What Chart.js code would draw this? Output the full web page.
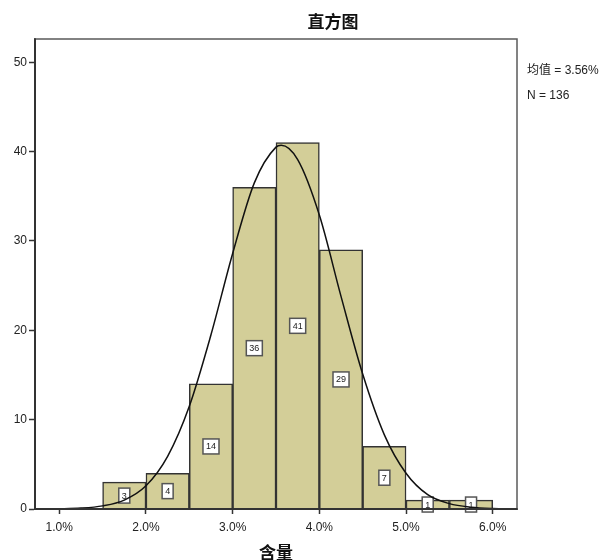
<!DOCTYPE html>
<html>
<head>
<meta charset="utf-8">
<script src="https://cdn.jsdelivr.net/npm/chart.js@4/dist/chart.umd.min.js"></script>
<style>
html,body{margin:0;padding:0;background:#fff;}
#wrap{width:602px;height:560px;}
</style>
</head>
<body>
<div id="wrap"><canvas id="c" width="602" height="560"></canvas></div>
<script>
// ---- data ----
const binCenters = [1.75, 2.25, 2.75, 3.25, 3.75, 4.25, 4.75, 5.25, 5.75];
const counts     = [3, 4, 14, 36, 41, 29, 7, 1, 1];
const curveX = [0.75, 1.0, 1.25, 1.5, 1.75, 2.0, 2.25, 2.5, 2.75, 3.0, 3.25, 3.5, 3.56, 3.75, 4.0, 4.25, 4.5, 4.75, 5.0, 5.25, 5.5, 5.75, 6.0, 6.25];
const curveY = [0.0, 0.03, 0.1, 0.35, 1.0, 2.6, 5.9, 11.5, 19.5, 28.6, 36.5, 40.5, 40.7, 39.1, 32.9, 23.8, 15.1, 8.3, 4.0, 1.6, 0.6, 0.2, 0.05, 0.01];
const xTicks = [1, 2, 3, 4, 5, 6];
const xTickLabels = ['1.0%', '2.0%', '3.0%', '4.0%', '5.0%', '6.0%'];
const yTicks = [0, 10, 20, 30, 40, 50];
const chartTitle = '直方图';
const xTitle = '含量';
const statsLines = ['均值 = 3.56%', 'N = 136'];

const barData = binCenters.map((x, i) => ({x: x, y: counts[i]}));
const curveData = curveX.map((x, i) => ({x: x, y: curveY[i]}));

const decorPlugin = {
  id: 'decor',
  afterDatasetDraw(chart, args) {
    if (args.index !== 1) return; // bar dataset
    const ctx = chart.ctx;
    const xs = chart.scales.x, ys = chart.scales.y;
    ctx.save();
    ctx.font = '9px "Liberation Sans", Arial, sans-serif';
    ctx.textAlign = 'center';
    ctx.textBaseline = 'middle';
    counts.forEach((c, i) => {
      const px = xs.getPixelForValue(binCenters[i]);
      const py = ys.getPixelForValue(c / 2);
      const txt = String(c);
      const w = ctx.measureText(txt).width + 6;
      const h = 15;
      ctx.fillStyle = '#ffffff';
      ctx.fillRect(px - w / 2, py - h / 2, w, h);
      ctx.strokeStyle = '#555555';
      ctx.lineWidth = 1.5;
      ctx.strokeRect(px - w / 2, py - h / 2, w, h);
      ctx.fillStyle = '#222222';
      ctx.fillText(txt, px, py + 0.5);
    });
    ctx.restore();
  },
  afterDraw(chart) {
    const ctx = chart.ctx;
    const a = chart.chartArea;
    ctx.save();
    // frame
    ctx.strokeStyle = '#5a5a5a';
    ctx.lineWidth = 1.5;
    ctx.strokeRect(a.left, a.top, a.right - a.left, a.bottom - a.top);
    ctx.strokeStyle = '#333333';
    ctx.lineWidth = 2;
    ctx.beginPath();
    ctx.moveTo(a.left, a.top);
    ctx.lineTo(a.left, a.bottom);
    ctx.lineTo(a.right, a.bottom);
    ctx.stroke();
    // title
    ctx.fillStyle = '#111111';
    ctx.textAlign = 'center';
    ctx.textBaseline = 'middle';
    ctx.font = 'bold 17px "Noto Sans CJK SC", sans-serif';
    ctx.fillText(chartTitle, 333, 22);
    ctx.fillText(xTitle, (a.left + a.right) / 2, 553);
    // stats
    ctx.textAlign = 'left';
    ctx.font = '12px "Liberation Sans", "Noto Sans CJK SC", Arial, sans-serif';
    ctx.fillStyle = '#222222';
    ctx.fillText(statsLines[0], 527, 71);
    ctx.fillText(statsLines[1], 527, 96);
    ctx.restore();
  }
};

new Chart(document.getElementById('c'), {
  data: {
    datasets: [
      {
        type: 'scatter',
        data: curveData,
        showLine: true,
        borderColor: '#111111',
        borderWidth: 1.5,
        pointRadius: 0,
        cubicInterpolationMode: 'monotone',
        fill: false,
        order: 0
      },
      {
        type: 'bar',
        data: barData,
        backgroundColor: '#D3CE98',
        borderColor: '#333333',
        borderWidth: 1.5,
        barPercentage: 1,
        categoryPercentage: 1,
        order: 1
      }
    ]
  },
  options: {
    responsive: false,
    animation: false,
    layout: {padding: {top: 39, right: 85, left: 0, bottom: 0}},
    plugins: {legend: {display: false}, tooltip: {enabled: false}, title: {display: false}},
    scales: {
      x: {
        type: 'linear',
        offset: false,
        min: 0.72,
        max: 6.28,
        afterBuildTicks(s) { s.ticks = xTicks.map(v => ({value: v})); },
        afterFit(s) { s.height = 51; },
        ticks: {
          callback: (v) => { const i = xTicks.indexOf(v); return i >= 0 ? xTickLabels[i] : ''; },
          font: {family: '"Liberation Sans", Arial, sans-serif', size: 12},
          color: '#222222',
          padding: 6,
          maxRotation: 0,
          autoSkip: false
        },
        grid: {offset: false, drawOnChartArea: false, drawTicks: true, tickLength: 5, tickColor: '#333333', tickWidth: 1.5},
        border: {display: true, color: '#333333', width: 2}
      },
      y: {
        type: 'linear',
        min: 0,
        max: 52.6,
        afterBuildTicks(s) { s.ticks = yTicks.map(v => ({value: v})); },
        afterFit(s) { s.width = 35; },
        ticks: {
          font: {family: '"Liberation Sans", Arial, sans-serif', size: 12},
          color: '#222222',
          padding: 2
        },
        grid: {drawOnChartArea: false, drawTicks: true, tickLength: 6, tickColor: '#333333', tickWidth: 1.5},
        border: {display: true, color: '#333333', width: 2}
      }
    }
  },
  plugins: [decorPlugin]
});
</script>
</body>
</html>
